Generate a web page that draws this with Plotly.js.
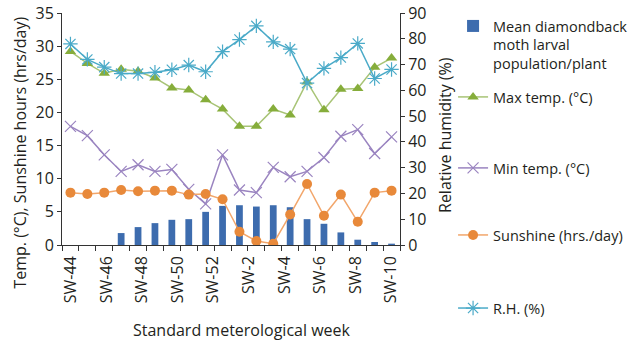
<!DOCTYPE html>
<html>
<head>
<meta charset="utf-8">
<script src="https://cdn.plot.ly/plotly-3.0.1.min.js"></script>
<style>html,body{margin:0;padding:0;background:#fff;}#chart{width:632px;height:346px;}</style>
</head>
<body>
<div id="chart"></div>
<script>
const weeks = ['SW-44','SW-45','SW-46','SW-47','SW-48','SW-49','SW-50','SW-51','SW-52',
  'SW-1','SW-2','SW-3','SW-4','SW-5','SW-6','SW-7','SW-8','SW-9','SW-10','SW-11'];
const tickLabels = ['SW-44','SW-46','SW-48','SW-50','SW-52','SW-2','SW-4','SW-6','SW-8','SW-10'];
const larvae   = [0, 0, 0, 1.8, 2.7, 3.3, 3.8, 3.9, 5.0, 5.9, 6.0, 5.8, 6.0, 5.7, 3.9, 3.2, 1.9, 0.8, 0.45, 0.2];
const maxTemp  = [29.2, 27.4, 25.9, 26.5, 26.2, 25.2, 23.7, 23.4, 21.9, 20.5, 17.9, 17.9, 20.5, 19.6, 24.6, 20.4, 23.5, 23.6, 26.8, 28.2];
const minTemp  = [17.9, 16.5, 13.6, 11.1, 12.1, 11.1, 11.4, 8.4, 6.2, 13.6, 8.3, 7.9, 11.7, 10.3, 11.1, 13.2, 16.4, 17.4, 13.8, 16.3];
const sunshine = [7.9, 7.7, 7.9, 8.3, 8.1, 8.2, 8.2, 7.6, 7.7, 6.9, 2.0, 0.6, 0.2, 4.6, 9.2, 4.4, 7.6, 3.5, 7.9, 8.2];
const rh       = [78, 72, 69, 66.5, 66.5, 67, 68, 69.8, 67.2, 75, 79.7, 85, 78.8, 76, 62.8, 68.5, 72.7, 78.2, 64.6, 68.1];

const FONT = 'Open Sans, sans-serif';
const TXT = '#231f20';

// label axis: 19 label slots (SW-44 … SW-10), every second one labelled
const labelSlots = tickLabels.map((_, k) => 2 * k);

const traces = [
  {type:'bar', x:weeks, y:larvae, name:'Mean diamondback<br>moth larval<br>population/plant',
   marker:{color:'#3d6cae'}, legend:'legend'},
  {type:'scatter', mode:'lines+markers', x:weeks, y:maxTemp, name:'Max temp. (°C)',
   line:{color:'#a8c476', width:1.5}, marker:{symbol:'triangle-up', size:10, color:'#86ad3b'}, legend:'legend2'},
  {type:'scatter', mode:'lines+markers', x:weeks, y:minTemp, name:'Min temp. (°C)',
   line:{color:'#9a84c0', width:1.5}, marker:{symbol:'x-thin-open', size:11, line:{color:'#8a6fb0', width:1.2}}, legend:'legend3'},
  {type:'scatter', mode:'lines+markers', x:weeks, y:sunshine, name:'Sunshine (hrs./day)',
   line:{color:'#f2a66b', width:1.5}, marker:{symbol:'circle', size:10, color:'#e8893a'}, legend:'legend4'},
  {type:'scatter', mode:'lines+markers', x:weeks, y:rh, name:'R.H. (%)', yaxis:'y2',
   line:{color:'#4aaac8', width:1.5}, marker:{symbol:'asterisk-open', size:12, line:{color:'#4aaac8', width:1.2}}, legend:'legend5'},
  {type:'scatter', mode:'markers', x:[], y:[], xaxis:'x2', yaxis:'y', showlegend:false, hoverinfo:'skip'}
];

function leg(y) {
  return {x:1.157, xanchor:'left', y:y, yanchor:'middle', bgcolor:'rgba(0,0,0,0)',
    font:{family:FONT, size:14.5, color:TXT}, valign:'top'};
}

const layout = {
  width:632, height:346,
  margin:{l:62, r:232, t:13, b:101, autoexpand:false},
  paper_bgcolor:'#fff', plot_bgcolor:'#fff',
  font:{family:FONT, size:16, color:TXT},
  bargap:0.6,
  xaxis:{type:'category', range:[-0.5, 19.5], tickmode:'array', tickvals:weeks, ticktext:weeks.map(() => ''),
    tickson:'boundaries', ticks:'outside', ticklen:5, tickcolor:'#333',
    showline:true, linecolor:'#333', linewidth:1, showgrid:false, zeroline:false},
  xaxis2:{overlaying:'x', anchor:'y', side:'bottom', type:'linear', range:[-0.5, 18.5],
    tickmode:'array', tickvals:labelSlots, ticktext:tickLabels, ticks:'', showline:false,
    showgrid:false, zeroline:false, tickangle:-90, ticklabelstandoff:7,
    tickfont:{family:FONT, size:16, color:TXT}},
  yaxis:{range:[0,35], dtick:5, ticks:'outside', ticklen:4, tickcolor:'#333', showline:true,
    linecolor:'#333', linewidth:1, showgrid:false, zeroline:false, tickfont:{family:FONT, size:16, color:TXT}},
  yaxis2:{range:[0,90], dtick:10, overlaying:'y', side:'right', ticks:'outside', ticklen:4, tickcolor:'#333',
    showline:true, linecolor:'#333', linewidth:1, showgrid:false, zeroline:false,
    tickfont:{family:FONT, size:16, color:TXT}},
  showlegend:true,
  legend: leg(0.862),
  legend2: leg(0.638),
  legend3: leg(0.332),
  legend4: leg(0.043),
  legend5: leg(-0.272),
  annotations:[
    {text:'Temp. (°C), Sunshine hours (hrs/day)', xref:'paper', yref:'paper', x:-0.123, y:0.40,
     textangle:-90, showarrow:false, font:{family:FONT, size:16, color:TXT}, xanchor:'center', yanchor:'middle'},
    {text:'Relative humidity (%)', xref:'paper', yref:'paper', x:1.133, y:0.474,
     textangle:-90, showarrow:false, font:{family:FONT, size:16, color:TXT}, xanchor:'center', yanchor:'middle'},
    {text:'Standard meterological week', xref:'paper', yref:'paper', x:0.533, y:-0.366,
     showarrow:false, font:{family:FONT, size:16, color:TXT}, xanchor:'center', yanchor:'middle'}
  ]
};

Plotly.newPlot('chart', traces, layout, {displayModeBar:false, staticPlot:true});
</script>
</body>
</html>
